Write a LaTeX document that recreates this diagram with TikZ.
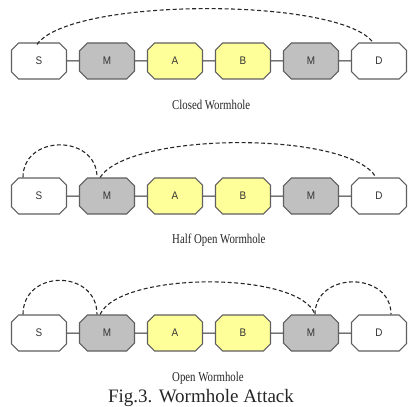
\documentclass[tikz,border=0pt]{standalone}
\usepackage{fontspec}
\setmainfont{Liberation Serif}
\newfontfamily\lblfont{Liberation Sans}
\usetikzlibrary{shapes.misc,calc}
\definecolor{mgray}{RGB}{192,192,192}
\definecolor{myellow}{RGB}{255,255,153}
\definecolor{edgec}{RGB}{95,95,95}
\tikzset{
  oct/.style={chamfered rectangle, chamfered rectangle xsep=8pt, chamfered rectangle ysep=8pt,
    minimum width=55pt, minimum height=36pt, inner sep=0pt, draw=edgec, line width=1.1pt,
    font=\lblfont\fontsize{11}{12}\selectfont\addfontfeature{FakeStretch=0.9}, text=black!80},
  wnode/.style={oct, fill=white},
  gnode/.style={oct, fill=mgray},
  ynode/.style={oct, fill=myellow},
  link/.style={draw=black!85, line width=1pt},
  tunnel/.style={draw=black!85, line width=1.1pt, dash pattern=on 4pt off 2.5pt},
  captext/.style={anchor=base west, inner sep=0pt,
    font=\fontsize{13.5}{14}\selectfont\addfontfeature{FakeStretch=0.8}, text=black!85},
}
\begin{document}
\begin{tikzpicture}[x=1pt,y=-1pt]
\useasboundingbox (0,0) rectangle (411,406);
\foreach \r/\yy in {1/61,2/196,3/333}{
  \node[wnode] (r\r s) at (39,\yy) {S};
  \node[gnode] (r\r ma) at (107,\yy) {M};
  \node[ynode] (r\r a) at (175,\yy) {A};
  \node[ynode] (r\r b) at (243,\yy) {B};
  \node[gnode] (r\r mb) at (311,\yy) {M};
  \node[wnode] (r\r d) at (379,\yy) {D};
  \draw[link] (r\r s) -- (r\r ma);
  \draw[link] (r\r ma) -- (r\r a);
  \draw[link] (r\r a) -- (r\r b);
  \draw[link] (r\r b) -- (r\r mb);
  \draw[link] (r\r mb) -- (r\r d);
}
% Row 1
\draw[tunnel] ($(r1s.north)+(-2,2)$) .. controls (70,-3) and (340,-3) .. ($(r1d.north)+(-6,0)$);
\node[captext] (c1) at (172,110) {Closed Wormhole};
% Row 2
\draw[tunnel] ($(r2s.north)+(-16,0)$) .. controls (23,134) and (97,134) .. ($(r2ma.north)+(-10,0)$);
\draw[tunnel] ($(r2ma.north)+(-7,0)$) .. controls (130,131) and (350,131) .. ($(r2d.north)+(-3,0)$);
\node[captext] (c2) at (172,243) {Half Open Wormhole};
% Row 3
\draw[tunnel] ($(r3s.north)+(-16,0)$) .. controls (23,269) and (97,269) .. ($(r3ma.north)+(-10,0)$);
\draw[tunnel] ($(r3ma.north)+(-7,0)$) .. controls (120,271) and (300,271) .. ($(r3mb.north)+(4,0)$);
\draw[tunnel] ($(r3mb.north)+(4,0)$) .. controls (315,271) and (391,271) .. ($(r3d.north)+(12,0)$);
\node[captext] (c3) at (172,381) {Open Wormhole};
\node[anchor=base, inner sep=0pt, font=\fontsize{19}{20}\selectfont, text=black!85] (fig) at (201,402) {Fig.3. Wormhole Attack};
\end{tikzpicture}
\end{document}
